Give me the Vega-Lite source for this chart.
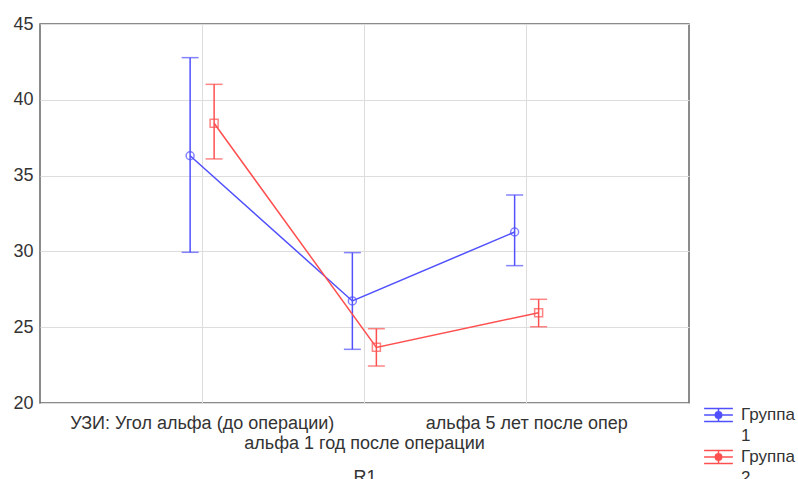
{
  "$schema": "https://vega.github.io/schema/vega-lite/v6.json",
  "width": 649,
  "height": 379,
  "autosize": "none",
  "padding": {"left": 40, "top": 24, "right": 109, "bottom": 76},
  "background": "white",
  "config": {
    "view": {"stroke": "#666", "strokeWidth": 1.5},
    "font": "Liberation Sans"
  },
  "data": {
    "values": [
      {"cat": "УЗИ: Угол альфа (до операции)", "group": "Группа 1", "mean": 36.31, "lo": 29.94, "hi": 42.78},
      {"cat": "альфа 1 год  после операции", "group": "Группа 1", "mean": 26.73, "lo": 23.54, "hi": 29.92},
      {"cat": "альфа 5 лет после опер", "group": "Группа 1", "mean": 31.28, "lo": 29.06, "hi": 33.72},
      {"cat": "УЗИ: Угол альфа (до операции)", "group": "Группа 2", "mean": 38.45, "lo": 36.1, "hi": 41.02},
      {"cat": "альфа 1 год  после операции", "group": "Группа 2", "mean": 23.67, "lo": 22.44, "hi": 24.9},
      {"cat": "альфа 5 лет после опер", "group": "Группа 2", "mean": 25.96, "lo": 25.03, "hi": 26.84}
    ]
  },
  "encoding": {
    "x": {
      "field": "cat",
      "type": "nominal",
      "sort": null,
      "scale": {"type": "band", "paddingInner": 0, "paddingOuter": 0.5},
      "axis": {
        "title": "R1",
        "titleFontSize": 18,
        "titleFontWeight": "normal",
        "titleColor": "#333",
        "titlePadding": 16,
        "labelFontSize": 18,
        "labelColor": "#333",
        "labelAngle": 0,
        "labelLimit": 500,
        "labelOverlap": false,
        "labelBound": false,
        "labelPadding": {"condition": {"test": "datum.value === 'альфа 1 год  после операции'", "value": 31}, "value": 11},
        "bandPosition": 0.5,
        "grid": true,
        "gridColor": "#ddd",
        "domain": false,
        "ticks": false
      }
    },
    "xOffset": {
      "field": "group",
      "type": "nominal",
      "scale": {"paddingInner": 0, "paddingOuter": 0, "range": [57, 105]}
    },
    "color": {
      "field": "group",
      "type": "nominal",
      "scale": {"domain": ["Группа 1", "Группа 2"], "range": ["#5050ff", "#ff5050"]},
      "legend": {
        "orient": "none",
        "legendX": 669.5,
        "legendY": 382,
        "title": null,
        "padding": 0,
        "symbolType": "M-1.8,-0.8H1.8M-1.8,0H1.8M-1.8,0.8H1.8M0,-0.8V0.8M0.4,0A0.4,0.4,0,1,1,-0.4,0A0.4,0.4,0,1,1,0.4,0",
        "symbolSize": 256,
        "symbolStrokeWidth": 1.5,
        "labelFontSize": 17,
        "labelColor": "#333",
        "labelExpr": "split(datum.label, ' ')",
        "labelOffset": 13.5,
        "rowPadding": 3,
        "encode": {"labels": {"update": {"lineHeight": {"value": 21}}}}
      }
    }
  },
  "layer": [
    {
      "mark": {"type": "rule", "strokeWidth": 1.5},
      "encoding": {
        "y": {
          "field": "lo",
          "type": "quantitative",
          "scale": {"domain": [20, 45], "nice": false, "zero": false},
          "axis": {
            "title": null,
            "values": [20, 25, 30, 35, 40, 45],
            "labelFontSize": 18,
            "labelColor": "#333",
            "labelPadding": 7,
            "grid": true,
            "gridColor": "#ddd",
            "domain": false,
            "ticks": false
          }
        },
        "y2": {"field": "hi"}
      }
    },
    {
      "mark": {"type": "tick", "thickness": 1.5, "size": 17, "orient": "horizontal"},
      "encoding": {"y": {"field": "lo", "type": "quantitative"}}
    },
    {
      "mark": {"type": "tick", "thickness": 1.5, "size": 17, "orient": "horizontal"},
      "encoding": {"y": {"field": "hi", "type": "quantitative"}}
    },
    {
      "mark": {"type": "line", "strokeWidth": 1.5},
      "encoding": {"y": {"field": "mean", "type": "quantitative"}}
    },
    {
      "mark": {"type": "point", "filled": false, "size": 64, "strokeWidth": 1.5},
      "encoding": {
        "y": {"field": "mean", "type": "quantitative"},
        "shape": {"field": "group", "type": "nominal", "scale": {"range": ["circle", "square"]}, "legend": null}
      }
    }
  ]
}
